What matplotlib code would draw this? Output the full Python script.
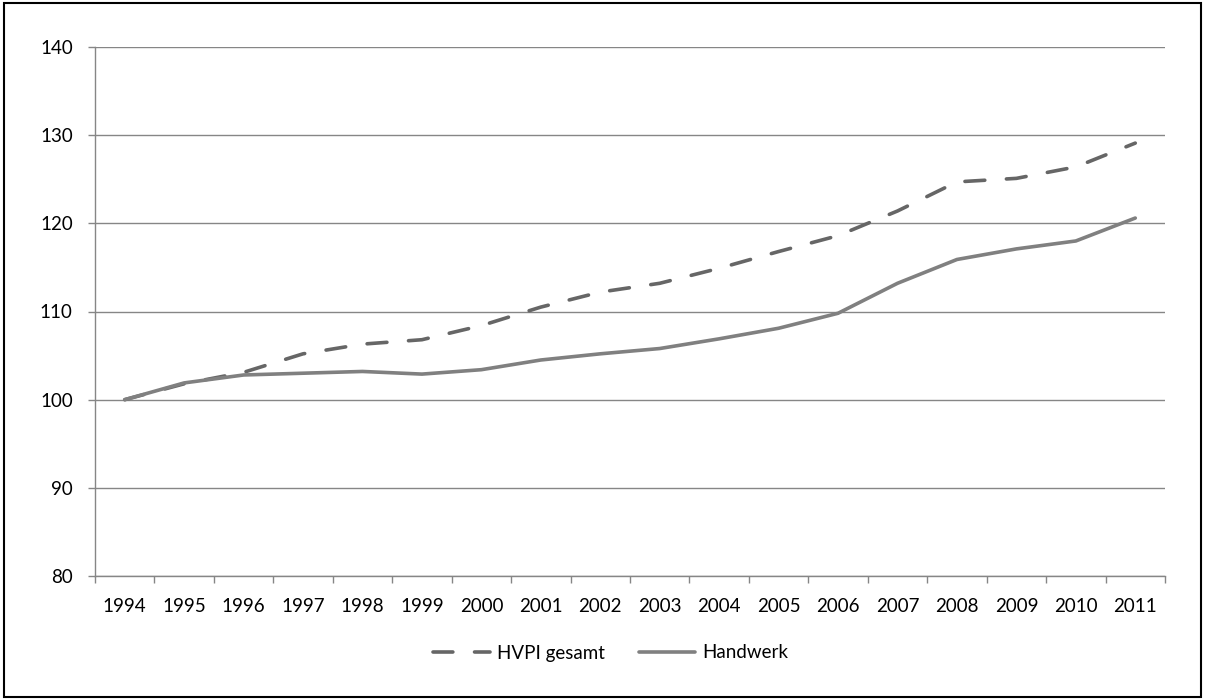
import matplotlib
matplotlib.use("Agg")
import matplotlib.pyplot as plt
from matplotlib.patches import Rectangle

years = ["1994", "1995", "1996", "1997", "1998", "1999", "2000", "2001", "2002",
         "2003", "2004", "2005", "2006", "2007", "2008", "2009", "2010", "2011"]
hvpi = [100.0, 101.8, 103.1, 105.2, 106.3, 106.8, 108.4, 110.5, 112.2,
        113.2, 114.9, 116.8, 118.6, 121.4, 124.7, 125.1, 126.4, 129.1]
handwerk = [100.0, 101.9, 102.8, 103.0, 103.2, 102.9, 103.4, 104.5, 105.2,
            105.8, 106.9, 108.1, 109.8, 113.2, 115.9, 117.1, 118.0, 120.6]
series_names = ["HVPI gesamt", "Handwerk"]
yticks = [80, 90, 100, 110, 120, 130, 140]

plt.rcParams['font.family'] = ['Lato', 'DejaVu Sans']
FS = 13.5

fig = plt.figure(figsize=(12.05, 6.99), dpi=100)
ax = fig.add_axes([95/1205, 1-576/699, (1165-95)/1205, (576-47)/699])

x = list(range(len(years)))
l1, = ax.plot(x, hvpi, color="#666666", lw=2.6, dashes=(5.5, 6.0),
              dash_capstyle="round", solid_capstyle="round", label=series_names[0], zorder=3)
l2, = ax.plot(x, handwerk, color="#808080", lw=2.6, solid_capstyle="round",
              label=series_names[1], zorder=3)

ax.set_xlim(-0.5, len(years) - 0.5)
ax.set_ylim(80, 140)
ax.set_yticks(yticks)
ax.set_yticklabels([str(v) for v in yticks], fontsize=FS)
ax.yaxis.grid(True, color="#868686", lw=1.0)
ax.set_axisbelow(True)

ax.set_xticks([i - 0.5 for i in range(len(years) + 1)])
ax.set_xticklabels([])
ax.set_xticks(x, minor=True)
ax.set_xticklabels(years, minor=True, fontsize=FS)
ax.tick_params(axis="x", which="major", length=5, color="#868686", width=1)
ax.tick_params(axis="x", which="minor", length=0, pad=16)
ax.tick_params(axis="y", length=5, color="#868686", width=1, pad=11)

for s in ["top", "right"]:
    ax.spines[s].set_visible(False)
for s in ["left", "bottom"]:
    ax.spines[s].set_color("#868686")
    ax.spines[s].set_linewidth(1.0)

leg = fig.legend(handles=[l1, l2], loc="center", bbox_to_anchor=(611/1205, 1-653/699),
                 ncol=2, frameon=False, fontsize=FS, handlelength=3.0,
                 handletextpad=0.4, columnspacing=1.8)

fig.patches.append(Rectangle((4/1205, 2/699), 1197/1205, 694/699, transform=fig.transFigure,
                             fill=False, edgecolor="black", lw=1.5))

fig.savefig("out.png", dpi=100)
